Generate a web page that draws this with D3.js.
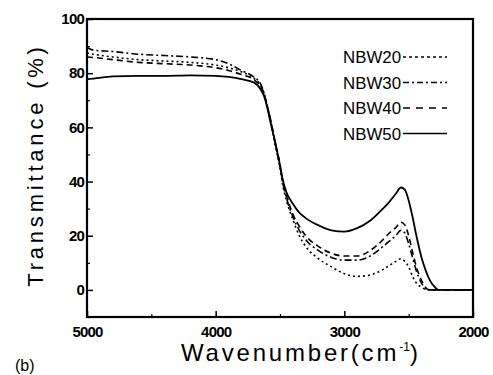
<!DOCTYPE html>
<html>
<head>
<meta charset="utf-8">
<script src="https://cdn.jsdelivr.net/npm/d3@7"></script>
<style>
  html, body { margin: 0; padding: 0; background: #fff; }
  svg { display: block; }
</style>
</head>
<body>
<svg id="chart" width="493" height="375"></svg>
<script>
const wavenumbers = [5000, 4950, 4800, 4600, 4400, 4200, 4000, 3900, 3800, 3700, 3650, 3620, 3600, 3570, 3540, 3500, 3480, 3450, 3400, 3350, 3300, 3200, 3100, 3000, 2900, 2800, 2700, 2650, 2600, 2560, 2530, 2500, 2470, 2440, 2400, 2370, 2340, 2300, 2270, 2000];
const nbw20 = [87.5, 87, 86, 85, 84.5, 84, 83, 82, 80.5, 78, 75.5, 72, 68, 62, 54, 45, 39, 33, 26, 20, 16, 11.5, 8.5, 6, 5, 5.5, 7.5, 9, 10.5, 11.5, 10.5, 8.5, 5, 2.5, 1, 0.2, 0, 0, 0, 0];
const nbw30 = [89.5, 88.5, 88, 87, 86.5, 86, 85, 83.5, 81, 78.5, 76, 72, 68, 62, 55, 46, 40, 34, 27, 22, 18.5, 14.5, 12, 11, 11, 12.5, 16, 18, 20, 22, 21, 17, 12, 7, 2.5, 0.5, 0, 0, 0, 0];
const nbw40 = [86, 85.8, 85, 84, 83.5, 83, 82, 81, 79.5, 77.5, 75, 71.5, 68, 62, 55, 46, 40.5, 35, 28, 23.5, 20, 16, 13.5, 12.5, 12.5, 14.5, 18.5, 21, 23, 25, 24, 20, 14, 8.5, 3.5, 1, 0, 0, 0, 0];
const nbw50 = [77.8, 78, 78.8, 79, 79, 79.2, 79, 78.6, 77.8, 76.5, 74, 71, 67.5, 61, 55, 46, 41, 36, 31.8, 28.5, 26.5, 23.8, 22, 21.5, 22.8, 25.5, 30, 32.5, 35.5, 37.8, 37, 33, 27, 20, 12, 7.5, 4, 1.2, 0, 0];
const seriesNames = ["NBW20", "NBW30", "NBW40", "NBW50"];
const xTicks = [5000, 4000, 3000, 2000];
const yTicks = [0, 20, 40, 60, 80, 100];
const xMinor = [4500, 3500, 2500];
const yMinor = [-10, 10, 30, 50, 70, 90];

const dashes = ["2,3", "7,3,2,3", "6,4", null];
const legendDashes = ["3,3", "6,3,2,3", "7,6", null];
const allSeries = [nbw20, nbw30, nbw40, nbw50];

const svg = d3.select("#chart");
const L = 87, T = 19, R = 473, B = 317;

const x = d3.scaleLinear().domain([5000, 2000]).range([L, R]);
const y = d3.scaleLinear().domain([-10, 100]).range([B, T]);

const line = d3.line()
  .x(d => x(d[0])).y(d => y(d[1]))
  .curve(d3.curveMonotoneX);

allSeries.forEach((s, i) => {
  const pts = wavenumbers.map((w, j) => [w, s[j]]);
  svg.append("path")
    .attr("d", line(pts))
    .attr("fill", "none")
    .attr("stroke", "#000")
    .attr("stroke-width", i === 3 ? 1.8 : 1.6)
    .attr("stroke-dasharray", dashes[i]);
});

const fontTick = "'Liberation Sans', Arial, sans-serif";
const xAxis = d3.axisBottom(x).tickValues(xTicks).tickSizeInner(-6).tickSizeOuter(0).tickFormat(d3.format("d"));
const gx = svg.append("g").attr("transform", `translate(0,${B})`).call(xAxis);
gx.select(".domain").remove();
gx.selectAll("line").attr("stroke", "#000").attr("stroke-width", 1.5);
gx.selectAll("text").attr("y", 9).attr("font-family", fontTick).attr("font-size", 15)
  .attr("font-weight", "bold").attr("letter-spacing", "-0.8").attr("fill", "#000");

const xAxisMinor = d3.axisBottom(x).tickValues(xMinor).tickSizeInner(-3).tickSizeOuter(0).tickFormat("");
const gxm = svg.append("g").attr("transform", `translate(0,${B})`).call(xAxisMinor);
gxm.select(".domain").remove();
gxm.selectAll("line").attr("stroke", "#000").attr("stroke-width", 1.2);

const yAxis = d3.axisLeft(y).tickValues(yTicks).tickSizeInner(-6).tickSizeOuter(0);
const gy = svg.append("g").attr("transform", `translate(${L},0)`).call(yAxis);
gy.select(".domain").remove();
gy.selectAll("line").attr("stroke", "#000").attr("stroke-width", 1.5);
gy.selectAll("text").attr("x", -3).attr("font-family", fontTick).attr("font-size", 15)
  .attr("font-weight", "bold").attr("letter-spacing", "-0.8").attr("fill", "#000");

const yAxisMinor = d3.axisLeft(y).tickValues(yMinor).tickSizeInner(-3).tickSizeOuter(0).tickFormat("");
const gym = svg.append("g").attr("transform", `translate(${L},0)`).call(yAxisMinor);
gym.select(".domain").remove();
gym.selectAll("line").attr("stroke", "#000").attr("stroke-width", 1.2);

svg.append("rect").attr("x", L).attr("y", T).attr("width", R - L).attr("height", B - T)
  .attr("fill", "none").attr("stroke", "#000").attr("stroke-width", 2.2);

const legBase = [63, 88.5, 114, 139.5];
seriesNames.forEach((n, i) => {
  svg.append("text").attr("x", 343).attr("y", legBase[i]).text(n)
    .attr("font-family", fontTick).attr("font-size", 17)
    .attr("textLength", 58).attr("lengthAdjust", "spacingAndGlyphs").attr("fill", "#000");
  svg.append("line").attr("x1", 403).attr("x2", 447)
    .attr("y1", legBase[i] - 6).attr("y2", legBase[i] - 6)
    .attr("stroke", "#000").attr("stroke-width", 1.4)
    .attr("stroke-dasharray", legendDashes[i]);
});

const titleFont = "'Liberation Sans', Arial, sans-serif";
const xt = svg.append("text").attr("x", 181).attr("y", 361)
  .attr("font-family", titleFont).attr("font-size", 24).attr("letter-spacing", "2.8").attr("fill", "#000");
xt.append("tspan").text("Wavenumber(cm");
xt.append("tspan").text("-1").attr("font-size", 12).attr("dy", -10).attr("letter-spacing", "0");
xt.append("tspan").text(")").attr("dy", 10);

svg.append("text")
  .attr("transform", "translate(43,165) rotate(-90)")
  .attr("text-anchor", "middle")
  .attr("font-family", titleFont).attr("font-size", 22).attr("letter-spacing", "3.8").attr("fill", "#000")
  .text("Transmittance (%)");

svg.append("text").attr("x", 15).attr("y", 371)
  .attr("font-family", titleFont).attr("font-size", 16).attr("fill", "#000").text("(b)");
</script>
</body>
</html>
